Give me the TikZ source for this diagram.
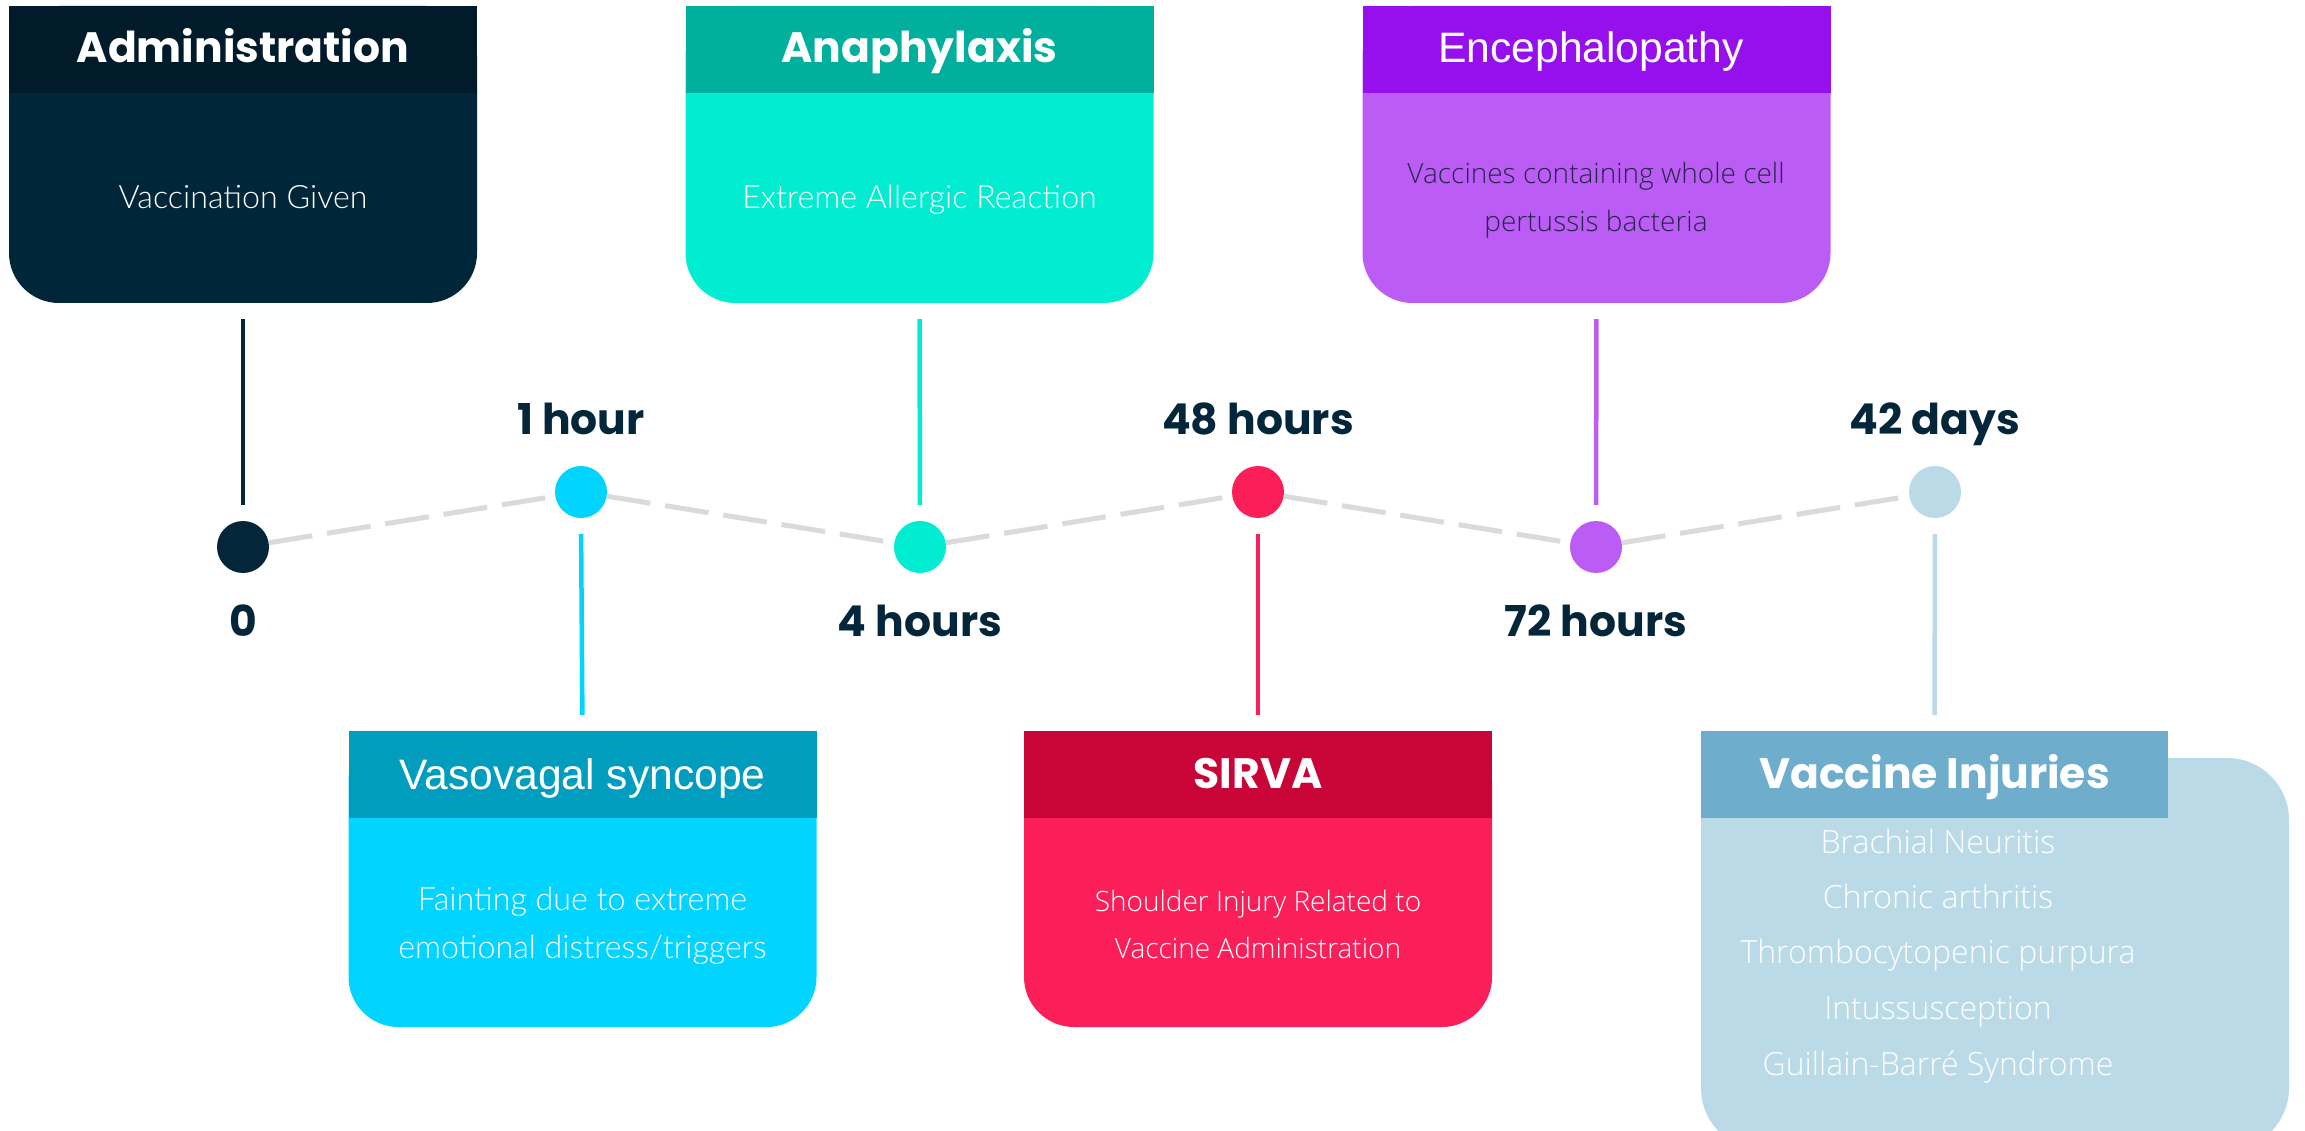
\documentclass[tikz,border=0pt]{standalone}
\usepackage{fontspec}
\newfontfamily\popb{Poppins Bold}
\newfontfamily\arialf{Liberation Sans}
\newfontfamily\latol{Lato Light}
\newfontfamily\opensl{Open Sans Light}
\definecolor{navy}{HTML}{03263A}
\definecolor{admH}{HTML}{011B2B}
\definecolor{admB}{HTML}{00263A}
\definecolor{anaH}{HTML}{00AF9C}
\definecolor{anaB}{HTML}{00EDD1}
\definecolor{encH}{HTML}{9610EE}
\definecolor{encB}{HTML}{BB5CF5}
\definecolor{encT}{HTML}{2A2550}
\definecolor{vasH}{HTML}{009DBE}
\definecolor{vasB}{HTML}{00D4FF}
\definecolor{sirH}{HTML}{C80536}
\definecolor{sirB}{HTML}{FA1F58}
\definecolor{vacH}{HTML}{6EADCC}
\definecolor{vacB}{HTML}{B9DAE6}
\definecolor{dashgray}{HTML}{DADADA}
\tikzset{
  bodybox/.style={rectangle, rounded corners=50pt, minimum width=468pt, minimum height=297pt, inner sep=0pt},
  hdr/.style={rectangle, minimum width=468pt, minimum height=87pt, inner sep=0pt, anchor=north},
  dot/.style={circle, minimum size=52pt, inner sep=0pt},
  ttl/.style={anchor=base, text=white, inner sep=0pt, font=\popb\fontsize{42.5}{50}\selectfont},
  ttla/.style={anchor=base, inner sep=0pt, font=\arialf\fontsize{42.6}{48}\selectfont},
  lbl/.style={anchor=base, text=navy, inner sep=0pt, font=\popb\fontsize{42.5}{48}\selectfont},
  txtl/.style={anchor=base, text=white, inner sep=0pt, font=\latol\fontsize{32.2}{36}\selectfont},
  txto/.style={anchor=base, inner sep=0pt, font=\opensl\fontsize{28}{32}\selectfont},
  txtv/.style={anchor=base, text=white, inner sep=0pt, font=\opensl\fontsize{32}{36}\selectfont},
  stem/.style={line width=4.5pt, shorten <=16pt, shorten >=16pt},
  dashline/.style={draw=dashgray, line width=5pt, dash pattern=on 44pt off 15pt}
}
\begin{document}
\begin{tikzpicture}[x=1pt,y=-1pt]
\fill[white] (0,0) rectangle (2305,1131);
\useasboundingbox (0,0) rectangle (2305,1131);

% top boxes
\node[bodybox, fill=admB] (b0) at (243,154.5) {};
\node[hdr, fill=admH] (h0) at (b0.north) {};
\node[ttl] (t0) at (243,63) {Administration};
\node[txtl] (x0) at (243,209) {Vaccination Given};

\node[bodybox, fill=anaB] (b2) at (919.5,154.5) {};
\node[hdr, fill=anaH] (h2) at (b2.north) {};
\node[ttl] (t2) at (919.5,63) {Anaphylaxis};
\node[txtl] (x2) at (919.5,209) {Extreme Allergic Reaction};

\node[bodybox, fill=encB] (b4) at (1596.5,154.5) {};
\node[hdr, fill=encH] (h4) at (b4.north) {};
\node[ttla, text=white] (t4) at (1591,63) {Encephalopathy};
\node[txto, text=encT] (x4a) at (1596,184) {Vaccines containing whole cell};
\node[txto, text=encT] (x4b) at (1596,232) {pertussis bacteria};

% bottom boxes
\node[bodybox, fill=vasB, minimum height=296pt] (b1) at (582.5,879) {};
\node[hdr, fill=vasH] (h1) at (b1.north) {};
\node[ttla, text=white] (t1) at (582.5,789) {Vasovagal syncope};
\node[txtl] (x1a) at (582.5,910) {Fainting due to extreme};
\node[txtl] (x1b) at (582.5,958) {emotional distress/triggers};

\node[bodybox, fill=sirB, minimum height=296pt] (b3) at (1258,879) {};
\node[hdr, fill=sirH] (h3) at (b3.north) {};
\node[ttl] (t3) at (1258,788) {SIRVA};
\node[txto, text=white] (x3a) at (1258,911) {Shoulder Injury Related to};
\node[txto, text=white] (x3b) at (1258,958) {Vaccine Administration};

\begin{scope}
\clip (0,0) rectangle (2305,1131);
\node[bodybox, fill=vacB, rounded corners=62pt, minimum width=588pt, minimum height=392pt] (b5) at (1995,954) {};
\end{scope}
\node[hdr, fill=vacH, minimum width=467pt] (h5) at (1934.5,731) {};
\node[ttl] (t5) at (1934.5,788) {Vaccine Injuries};
\node[txtv] (v1) at (1938,853) {Brachial Neuritis};
\node[txtv] (v2) at (1938,908) {Chronic arthritis};
\node[txtv] (v3) at (1938,963) {Thrombocytopenic purpura};
\node[txtv] (v4) at (1938,1019) {Intussusception};
\node[txtv] (v5) at (1938,1075) {Guillain-Barré Syndrome};

% dots
\node[dot, fill=navy] (d0) at (243,547) {};
\node[dot, fill=vasB] (d1) at (581,492) {};
\node[dot, fill=anaB] (d2) at (920,547) {};
\node[dot, fill=sirB] (d3) at (1258,492) {};
\node[dot, fill=encB] (d4) at (1596,547) {};
\node[dot, fill=vacB] (d5) at (1935,492) {};

% dashed timeline
\draw[dashline] (d0) -- (d1);
\draw[dashline] (d1) -- (d2);
\draw[dashline] (d2) -- (d3);
\draw[dashline] (d3) -- (d4);
\draw[dashline] (d4) -- (d5);

% stems
\draw[stem, draw=navy] (b0.south) -- (d0.north);
\draw[stem, draw=anaB] (b2.south) -- (d2.north);
\draw[stem, draw=encB] (b4.south) -- (d4.north);
\draw[stem, draw=vasB] (d1.south) -- (h1.north);
\draw[stem, draw=sirB] (d3.south) -- (h3.north);
\draw[stem, draw=vacB] (d5.south) -- (h5.north);

% labels
\node[lbl] (l0) at (243,636) {0};
\node[lbl] (l1) at (581,434) {1 hour};
\node[lbl] (l2) at (920,636) {4 hours};
\node[lbl] (l3) at (1258,434) {48 hours};
\node[lbl] (l4) at (1596,636) {72 hours};
\node[lbl] (l5) at (1935,434) {42 days};
\end{tikzpicture}
\end{document}
